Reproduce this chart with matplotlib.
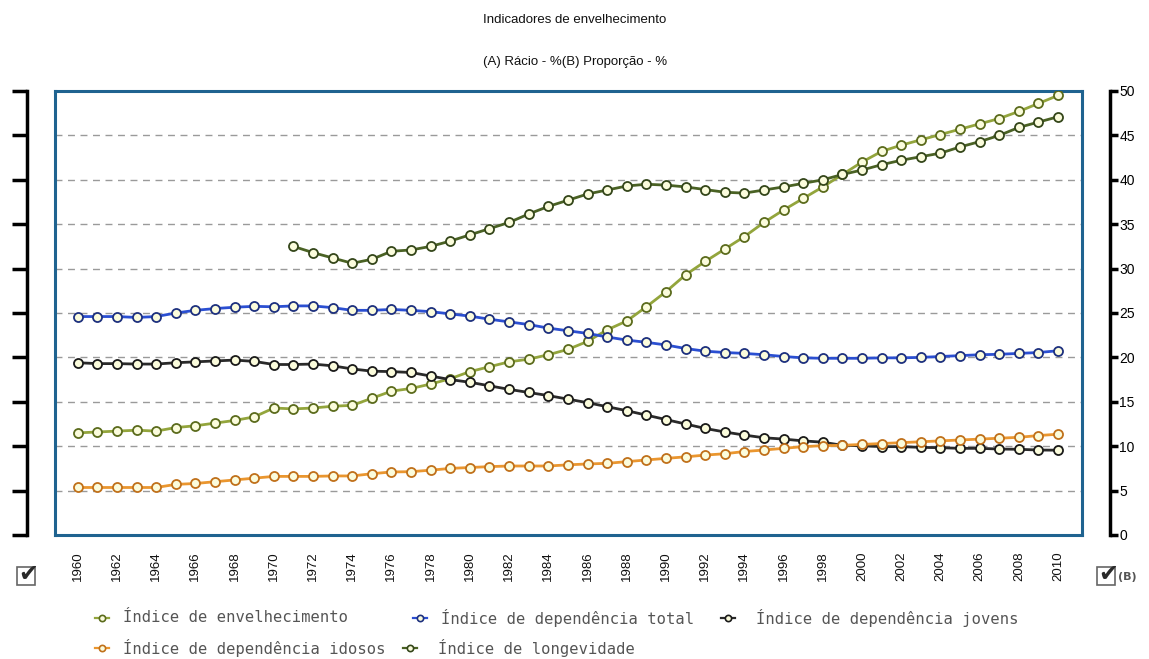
import numpy as np
import matplotlib
matplotlib.use("Agg")
import matplotlib.pyplot as plt
from matplotlib.lines import Line2D
from matplotlib.patches import Rectangle

nan = np.nan
years = list(range(1960, 2011))
xtick_years = list(range(1960, 2011, 2))

envelhecimento = [11.5, 11.6, 11.7, 11.8, 11.7, 12.1, 12.3, 12.6, 12.9, 13.3, 14.3, 14.2, 14.3, 14.5, 14.6, 15.4, 16.2,
                  16.5, 17.0, 17.6, 18.4, 18.95, 19.5, 19.8, 20.3, 20.9, 21.8, 23.1, 24.1, 25.7, 27.4, 29.3, 30.8, 32.2,
                  33.6, 35.2, 36.6, 37.9, 39.2, 40.6, 42.0, 43.2, 43.9, 44.5, 45.1, 45.7, 46.3, 46.9, 47.7, 48.6, 49.5]
dep_total = [24.6, 24.6, 24.6, 24.5, 24.6, 25.0, 25.3, 25.5, 25.65, 25.75, 25.7, 25.8, 25.8, 25.6, 25.3, 25.3, 25.4,
             25.3, 25.15, 24.9, 24.65, 24.3, 24.0, 23.7, 23.3, 23.0, 22.7, 22.3, 21.95, 21.7, 21.4, 21.0, 20.7, 20.55,
             20.45, 20.3, 20.1, 19.95, 19.9, 19.9, 19.9, 19.95, 19.95, 20.0, 20.1, 20.2, 20.3, 20.35, 20.45, 20.55, 20.75]
dep_jovens = [19.4, 19.3, 19.3, 19.25, 19.25, 19.4, 19.5, 19.6, 19.7, 19.55, 19.2, 19.2, 19.25, 19.05, 18.7, 18.45, 18.4,
              18.3, 17.9, 17.5, 17.2, 16.8, 16.4, 16.05, 15.7, 15.3, 14.9, 14.45, 14.0, 13.5, 13.0, 12.5, 12.0, 11.6,
              11.25, 10.95, 10.8, 10.6, 10.45, 10.1, 10.05, 9.95, 9.95, 9.87, 9.83, 9.76, 9.76, 9.68, 9.65, 9.57, 9.55]
dep_idosos = [5.35, 5.35, 5.35, 5.35, 5.35, 5.7, 5.8, 6.0, 6.2, 6.4, 6.6, 6.6, 6.6, 6.65, 6.65, 6.9, 7.1,
              7.13, 7.3, 7.5, 7.6, 7.7, 7.77, 7.77, 7.77, 7.9, 8.0, 8.07, 8.26, 8.45, 8.63, 8.8, 9.0, 9.15,
              9.4, 9.57, 9.76, 9.95, 10.06, 10.1, 10.2, 10.3, 10.4, 10.5, 10.6, 10.7, 10.8, 10.9, 11.0, 11.2, 11.35]
longevidade = [nan] * 11 + [32.5, 31.8, 31.2, 30.6, 31.05, 31.95,
               32.1, 32.5, 33.1, 33.8, 34.5, 35.2, 36.15, 37.0, 37.7, 38.4, 38.85, 39.3, 39.5, 39.4, 39.2, 38.9, 38.6,
               38.5, 38.85, 39.2, 39.6, 40.0, 40.6, 41.1, 41.7, 42.2, 42.6, 43.0, 43.7, 44.3, 45.0, 45.9, 46.5, 47.1]

labels = ["Índice de envelhecimento", "Índice de dependência total", "Índice de dependência jovens",
          "Índice de dependência idosos", "Índice de longevidade"]
series = [envelhecimento, dep_total, dep_jovens, dep_idosos, longevidade]
line_colors = ["#93a53c", "#2b4fd2", "#2a2a2a", "#ea962f", "#4a6224"]
edge_colors = ["#5b6b1c", "#1d307e", "#1a1a1a", "#c0701a", "#34461a"]
marker_fill = "#fbfcdc"

W, H = 1149, 659
fig = plt.figure(figsize=(W / 100, H / 100), dpi=100)
fig.patch.set_facecolor("white")

x0, x1, yt, yb = 55, 1082, 91, 535
ax = fig.add_axes([x0 / W, 1 - yb / H, (x1 - x0) / W, (yb - yt) / H])
ax.set_xlim(1958.84, 2011.22)
ax.set_ylim(0, 50)
ax.set_yticks(range(0, 51, 5))
ax.yaxis.grid(True, linestyle=(0, (5, 4)), color="#9a9a9a", linewidth=1.0)
ax.tick_params(axis="y", length=0, labelleft=False)
ax.set_xticks(xtick_years)
ax.set_xticklabels([str(y) for y in xtick_years], rotation=90, fontsize=9.5,
                   family="Liberation Sans", color="#111111")
ax.tick_params(axis="x", length=0, pad=12)
for s in ax.spines.values():
    s.set_color("#1f6390")
    s.set_linewidth(2.2)

for vals, lc, ec in zip(series, line_colors, edge_colors):
    ax.plot(years, vals, color=lc, linewidth=2.0, marker="o", markersize=6.5,
            markerfacecolor=marker_fill, markeredgecolor=ec, markeredgewidth=1.3, zorder=3)

# right axis (B)
axr = ax.twinx()
axr.set_ylim(0, 50)
axr.set_yticks(range(0, 51, 5))
for k in ["top", "bottom", "left"]:
    axr.spines[k].set_visible(False)
axr.spines["right"].set_position(("outward", 20))
axr.spines["right"].set_linewidth(2.5)
axr.spines["right"].set_color("black")
axr.tick_params(axis="y", length=6, width=2.5, color="black", pad=1, labelsize=10)
for t in axr.get_yticklabels():
    t.set_family("Liberation Sans")

# left axis (A)
axl = ax.twinx()
axl.set_ylim(0, 50)
axl.set_yticks(range(0, 51, 5))
axl.yaxis.tick_left()
for k in ["top", "bottom", "right"]:
    axl.spines[k].set_visible(False)
axl.spines["left"].set_visible(True)
axl.spines["left"].set_position(("outward", 20))
axl.spines["left"].set_linewidth(2.5)
axl.spines["left"].set_color("black")
axl.tick_params(axis="y", length=11, width=2.5, color="black", labelleft=False)

# titles
fig.text(575 / W, 1 - 20 / H, "Indicadores de envelhecimento", ha="center", va="center",
         fontsize=9.5, family="Liberation Sans", color="#111111")
fig.text(575 / W, 1 - 62 / H, "(A) Rácio - %(B) Proporção - %", ha="center", va="center",
         fontsize=9.5, family="Liberation Sans", color="#111111")


def checkbox(cx, cy):
    fig.add_artist(Rectangle(((cx - 9) / W, 1 - (cy + 9) / H), 18 / W, 18 / H,
                             transform=fig.transFigure, fill=True, facecolor="white",
                             edgecolor="#666666", linewidth=1.2))
    fig.text((cx + 2) / W, 1 - (cy - 2) / H, "✔", ha="center", va="center", fontsize=17,
             family="DejaVu Sans", color="#2a2a2a")


checkbox(26, 576)
checkbox(1106, 576)
fig.text(1118 / W, 1 - 577 / H, "(B)", ha="left", va="center", fontsize=8,
         family="DejaVu Sans", color="#555555", fontweight="bold")

# legend (flow layout)
legend_icon_x = [102, 420, 728, 102, 410]
legend_text_x = [123, 441, 756, 123, 438]
legend_y = [618, 618, 618, 648, 648]
for px, tx, py, lab, lc, ec in zip(legend_icon_x, legend_text_x, legend_y, labels, line_colors, edge_colors):
    fy = 1 - py / H
    fig.add_artist(Line2D([(px - 7) / W, (px + 7) / W], [fy, fy], transform=fig.transFigure,
                          color=lc, linewidth=1.6))
    fig.add_artist(Line2D([px / W], [fy], transform=fig.transFigure, marker="o", markersize=4.5,
                          markerfacecolor=marker_fill, markeredgecolor=ec, markeredgewidth=1.2,
                          linestyle="none"))
    fig.text(tx / W, fy, lab, ha="left", va="center", fontsize=11.2,
             family="DejaVu Sans Mono", color="#555555")

fig.savefig("out.png", dpi=100, facecolor="white")
